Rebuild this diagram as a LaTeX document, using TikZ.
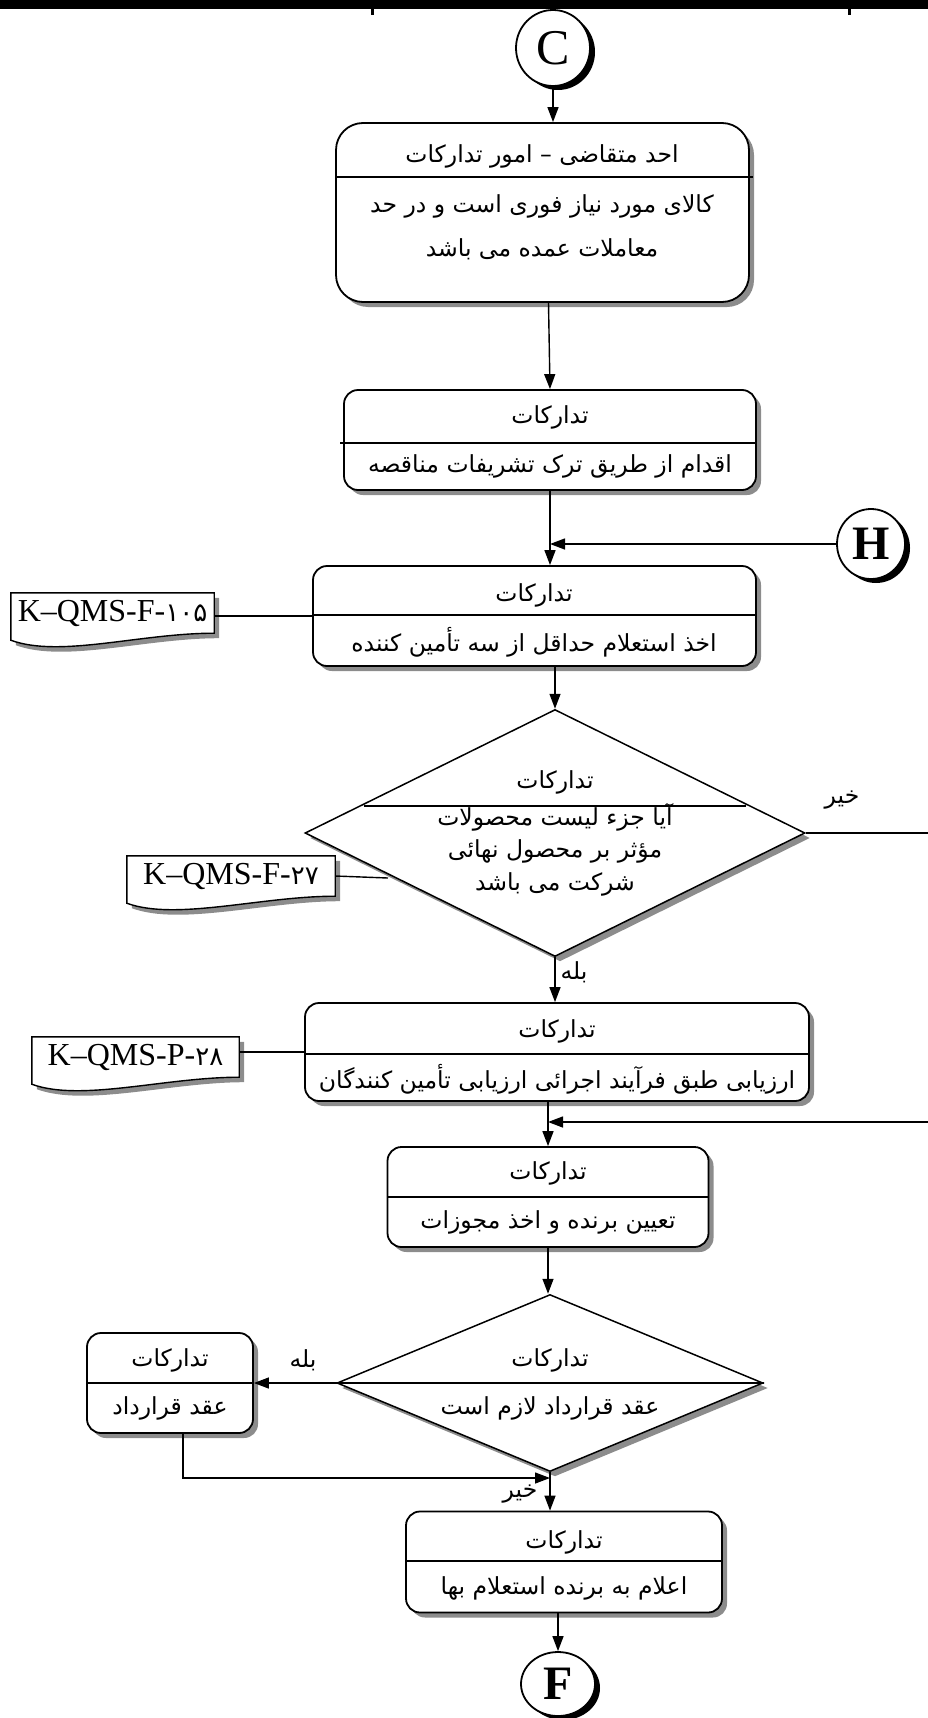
\documentclass[tikz,border=0pt]{standalone}
\usepackage{fontspec}
\setmainfont{Liberation Serif}
\newfontfamily\arabicfont[Script=Arabic]{DejaVu Sans}
\TeXXeTstate=1
\usetikzlibrary{shapes.geometric,shadows,arrows.meta}
\newcommand{\faR}[1]{\beginR #1\endR}
\newcommand{\fadig}[1]{{\arabicfont\fontsize{26}{30}\selectfont #1}}
\newcommand{\docshape}[1]{%
  \path[docsh] (#1.north west) -- (#1.north east) -- (#1.south east)
    .. controls ([xshift=-74pt]#1.south east) and ([xshift=49pt,yshift=-25pt]#1.south west)
    .. ([yshift=-7pt]#1.south west) -- cycle;}
\begin{document}
\begin{tikzpicture}[x=1pt,y=-1pt,
  shp/.style={draw, line width=1.8pt, fill=white},
  proc/.style={shp, rectangle, rounded corners=14pt, inner sep=0pt,
    drop shadow={shadow xshift=5pt, shadow yshift=-5pt, fill=black!45, opacity=1}},
  dec/.style={shp, line width=1.5pt, diamond, inner sep=0pt,
    drop shadow={shadow xshift=5pt, shadow yshift=-5pt, fill=black!45, opacity=1}},
  conn/.style={shp, ellipse, inner sep=0pt,
    drop shadow={shadow xshift=5pt, shadow yshift=-4pt, fill=black, opacity=1}},
  docsh/.style={draw, line width=1.4pt, fill=white,
    drop shadow={shadow xshift=5pt, shadow yshift=-5pt, fill=black!45, opacity=1}},
  docbox/.style={inner sep=0pt, minimum width=#1, minimum height=40pt},
  fa/.style={font=\arabicfont\fontsize{23.5}{28}\selectfont, inner sep=0pt},
  lbl/.style={font=\fontsize{32}{36}\selectfont, inner sep=0pt},
  arr/.style={line width=1.4pt, -{Triangle[length=15pt,width=11pt]}},
  ln/.style={line width=1.4pt},
  divl/.style={line width=1.4pt},
]
\useasboundingbox (0,0) rectangle (928,1718);
% top bar
\fill (0,0) rectangle (928,9);
\draw[line width=3pt] (372,9) -- (372,15) (849,9) -- (849,15);

\coordinate (eR1) at (928,833);
\coordinate (eR2) at (928,1122);
\coordinate (k2e) at (388,878);
\coordinate (j3) at (550,1478);

% connectors C, H, F
\node[conn, minimum width=74pt, minimum height=76pt] (c) at (553,48) {};
\node[font=\fontsize{50}{50}\selectfont, inner sep=0pt] at (c) {C};
\node[conn, minimum width=68pt, minimum height=70pt] (h) at (871,544) {};
\node[font=\bfseries\fontsize{48}{48}\selectfont, inner sep=0pt] at (h) {H};
\node[conn, minimum width=74pt, minimum height=64pt] (f) at (558,1684) {};
\node[font=\bfseries\fontsize{48}{48}\selectfont, inner sep=0pt] at (f) {F};

% box 1
\node[proc, rounded corners=27pt, minimum width=413pt, minimum height=179pt] (b1) at (542.5,212.5) {};
\draw[divl] (336,177) -- (753,177);
\node[fa] at (542,156) {\faR{احد متقاضی – امور تدارکات}};
\node[fa] at (542,206) {\faR{کالای مورد نیاز فوری است و در حد}};
\node[fa] at (542,249) {\faR{معاملات عمده می باشد}};

% box 2
\node[proc, minimum width=412pt, minimum height=100pt] (b2) at (550,440) {};
\draw[divl] (340,443) -- (756,443);
\node[fa] at (550,417) {\faR{تدارکات}};
\node[fa] at (550,466) {\faR{اقدام از طریق ترک تشریفات مناقصه}};

% box 3
\node[proc, minimum width=443pt, minimum height=100pt] (b3) at (534.5,616) {};
\draw[divl] (313,615) -- (756,615);
\node[fa] at (534,595) {\faR{تدارکات}};
\node[fa] at (534,642) {\faR{اخذ استعلام حداقل از سه تأمین کننده}};

% doc 1
\node[docbox=203pt] (k1) at (112.5,613) {};
\docshape{k1}
\node[lbl] at (k1) {K–QMS-F-\fadig{۱۰۵}};

% diamond 1
\node[dec, minimum width=500pt, minimum height=247pt] (d1) at (555,833) {};
\draw[divl] (364,806) -- (746,806);
\node[fa] at (555,782) {\faR{تدارکات}};
\node[fa] at (555,817) {\faR{آیا جزء لیست محصولات}};
\node[fa] at (555,851) {\faR{مؤثر بر محصول نهائی}};
\node[fa] at (555,884) {\faR{شرکت می باشد}};

% doc 2
\node[docbox=208pt] (k2) at (231,876) {};
\docshape{k2}
\node[lbl] at (k2) {K–QMS-F-\fadig{۲۷}};

% box 4
\node[proc, minimum width=504pt, minimum height=98pt] (b4) at (557,1052) {};
\draw[divl] (305,1054) -- (809,1054);
\node[fa] at (557,1031) {\faR{تدارکات}};
\node[fa] at (557,1079) {\faR{ارزیابی طبق فرآیند اجرائی ارزیابی تأمین کنندگان}};

% doc 3
\node[docbox=207pt] (k3) at (135.5,1057) {};
\docshape{k3}
\node[lbl] at (k3) {K–QMS-P-\fadig{۲۸}};

% box 5
\node[proc, minimum width=321pt, minimum height=100pt] (b5) at (548,1197) {};
\draw[divl] (387,1197) -- (708,1197);
\node[fa] at (548,1173) {\faR{تدارکات}};
\node[fa] at (548,1222) {\faR{تعیین برنده و اخذ مجوزات}};

% diamond 2
\node[dec, minimum width=426pt, minimum height=177pt] (d2) at (550,1383) {};
\draw[divl] (d2.west) -- (d2.east);
\node[fa] at (550,1360) {\faR{تدارکات}};
\node[fa] at (550,1408) {\faR{عقد قرارداد لازم است}};

% box 6
\node[proc, minimum width=166pt, minimum height=100pt] (b6) at (170,1383) {};
\draw[divl] (87,1383) -- (253,1383);
\node[fa] at (170,1360) {\faR{تدارکات}};
\node[fa] at (170,1408) {\faR{عقد قرارداد}};

% box 7
\node[proc, minimum width=316pt, minimum height=101pt] (b7) at (564,1562) {};
\draw[divl] (406,1561) -- (722,1561);
\node[fa] at (564,1542) {\faR{تدارکات}};
\node[fa] at (564,1588) {\faR{اعلام به برنده استعلام بها}};

% connectors
\draw[arr] (c.south) -- (c.south |- b1.north);
\draw[arr] ([xshift=6pt]b1.south) -- (b2.north);
\draw[arr] (b2.south) -- (b2.south |- b3.north);
\draw[arr] (h.west) -- (h.west -| b2.south);
\draw[ln] (k1.east |- b3.west) -- (b3.west);
\draw[arr] (b3.south -| d1.north) -- (d1.north);
\draw[ln] (d1.east) -- (eR1);
\node[fa] at (842,800) {\faR{خیر}};
\draw[ln] (k2.east) -- (k2e);
\draw[arr] (d1.south) -- (d1.south |- b4.north);
\node[fa] at (574,972) {\faR{بله}};
\draw[ln] (k3.east |- b4.west) -- (b4.west);
\draw[arr] (b5.north |- b4.south) -- (b5.north);
\draw[arr] (eR2) -- (eR2 -| b5.north);
\draw[arr] (b5.south) -- (b5.south |- d2.north);
\draw[arr] (d2.west) -- (b6.east);
\node[fa] at (303,1360) {\faR{بله}};
\draw[arr] ([xshift=13pt]b6.south) |- (j3);
\draw[arr] (d2.south) -- (d2.south |- b7.north);
\node[fa] at (520,1494) {\faR{خیر}};
\draw[arr] (f.north |- b7.south) -- (f.north);
\end{tikzpicture}
\end{document}
